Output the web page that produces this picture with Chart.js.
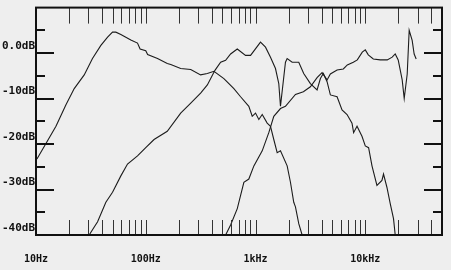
<!DOCTYPE html>
<html>
<head>
<meta charset="utf-8">
<script src="https://cdn.jsdelivr.net/npm/chart.js@4"></script>
<style>
  html, body { margin: 0; padding: 0; background: #eeeeee; }
  #wrap { width: 451px; height: 270px; }
</style>
</head>
<body>
<div id="wrap"><canvas id="resp"></canvas></div>
<script>
// axis values
var xLabelTicks = [10, 100, 1000, 10000];
var xLabelNames = ['10Hz', '100Hz', '1kHz', '10kHz'];
var xMarks = [20, 30, 40, 50, 60, 70, 80, 90, 100,
              200, 300, 400, 500, 600, 700, 800, 900, 1000,
              2000, 3000, 4000, 5000, 6000, 7000, 8000, 9000, 10000,
              20000, 30000, 40000];
var yLabelTicks = [-40, -30, -20, -10, 0];
var yLabelNames = ['-40dB', '-30dB', '-20dB', '-10dB', '0.0dB'];
var yMarks = [-35, -30, -25, -20, -15, -10, -5, 0, 5];

// woofer
var wooferFreq = [10.2, 15.2, 18.7, 22.3, 27.5, 32.7, 39, 44.9, 49.8, 53.4, 59.3, 73.1, 84.1, 88.8, 100, 104, 128, 157,
                  169, 208, 257, 316, 364, 418, 515, 635, 731, 869, 933, 1000, 1072, 1151, 1277, 1369,
                  1467, 1575, 1688, 1942, 2081, 2230, 2311, 2477, 2658];
var wooferDb = [-23.3, -16.1, -11.4, -7.8, -4.8, -1.2, 1.7, 3.5, 4.6, 4.6, 4.1, 2.9, 2.2, 0.9, 0.5, -0.3, -1.2, -2.3,
                -2.5, -3.4, -3.6, -4.8, -4.5, -4.0, -5.6, -7.8, -9.6, -11.7, -13.9, -13.2, -14.6, -13.5, -15.4, -16.1,
                -19.0, -21.9, -21.5, -24.8, -28.4, -32.8, -33.8, -37.5, -40];

// midrange
var midFreq = [30.5, 36.4, 43.3, 49.8, 59.3, 68.2, 84.1, 100, 119, 157, 208, 257, 316, 364, 427, 481, 534, 593, 682,
               811, 901, 1110, 1233, 1369, 1520, 1629, 1688, 1874, 1942, 2157, 2477, 2748, 3162, 3638, 3900, 4150,
               4486, 4808, 5534, 6140, 6822, 7570, 7830, 8410, 9330, 10000, 10720, 11510, 12770, 14180, 14660,
               15740, 16880, 18080, 18740];
var midDb = [-40, -37.1, -32.8, -30.6, -27.0, -24.4, -22.6, -20.8, -19.0, -17.2, -13.2, -11.0, -8.8, -7.0, -3.8, -2.0, -1.6, -0.2, 0.9,
             -0.5, -0.5, 2.4, 1.3, -0.9, -3.4, -6.7, -11.7, -2.0, -1.2, -2.0, -2.0, -4.5, -6.7, -8.1, -5.6, -4.5,
             -6.3, -9.2, -9.6, -12.5, -13.5, -15.4, -17.5, -16.1, -18.3, -20.4, -20.8, -24.8, -29.1, -28.0, -26.6,
             -29.5, -33.1, -36.4, -40];

// tweeter
var tweetFreq = [534, 593, 682, 783, 869, 966, 1151, 1321, 1467, 1688, 1874, 2311, 2730, 3162, 3638, 4040, 4486, 4808,
                 5534, 6310, 6860, 7780, 8460, 9390, 10000, 10650, 11830, 13690, 15850, 17590, 18740, 19950,
                 21690, 22630, 24100, 25120, 26740, 27880, 29090];
var tweetDb = [-40, -37.8, -34.2, -28.4, -27.7, -24.8, -21.5, -17.5, -13.9, -12.2, -11.7, -9.1, -8.5, -7.4, -5.4, -4.3, -5.9, -4.6,
               -3.7, -3.5, -2.6, -2.0, -1.5, 0.2, 0.7, -0.4, -1.3, -1.5, -1.5, -0.9, -0.2, -1.5,
               -5.9, -10.0, -4.6, 5.0, 2.8, -0.2, -1.3];

function toPoints(fs, ds) {
    return fs.map(function (f, i) { return {x: f, y: ds[i]}; });
}

function lineSet(fs, ds) {
    return {
        data: toPoints(fs, ds),
        borderColor: '#1c1c1c',
        borderWidth: 1.1,
        pointRadius: 0,
        tension: 0,
        fill: false
    };
}

//框線與刻度
const frameTicks = {
    id: 'frameTicks',
    afterDatasetsDraw(chart) {
        const ctx = chart.ctx;
        const a = chart.chartArea;
        const x = chart.scales.x;
        const y = chart.scales.y;
        ctx.save();
        ctx.strokeStyle = '#111';
        ctx.lineWidth = 2;
        yMarks.forEach(function (v) {
            const py = Math.round(y.getPixelForValue(v));
            const len = (v % 10 === 0) ? 18 : 9;
            ctx.beginPath();
            ctx.moveTo(a.left, py); ctx.lineTo(a.left + len, py);
            ctx.moveTo(a.right, py); ctx.lineTo(a.right - len, py);
            ctx.stroke();
        });
        ctx.strokeStyle = '#333';
        ctx.lineWidth = 1;
        xMarks.forEach(function (v) {
            const px = Math.round(x.getPixelForValue(v)) + 0.5;
            ctx.beginPath();
            ctx.moveTo(px, a.top); ctx.lineTo(px, a.top + 16);
            ctx.moveTo(px, a.bottom); ctx.lineTo(px, a.bottom - 15);
            ctx.stroke();
        });
        ctx.strokeStyle = '#111';
        ctx.lineWidth = 2;
        ctx.strokeRect(a.left, a.top, a.right - a.left, a.bottom - a.top);
        ctx.restore();
    }
};

new Chart(document.getElementById('resp'), {
    type: 'line',
    data: {
        datasets: [lineSet(wooferFreq, wooferDb), lineSet(midFreq, midDb), lineSet(tweetFreq, tweetDb)]
    },
    options: {
        responsive: true,
        maintainAspectRatio: false,
        animation: false,
        layout: { padding: { top: 5, right: 9, left: 0, bottom: 0 } },
        plugins: { legend: { display: false }, tooltip: { enabled: false } },
        scales: {
            x: {
                type: 'logarithmic',
                min: 10,
                max: 50000,
                grid: { display: false, drawTicks: false },
                border: { display: false },
                afterBuildTicks: function (s) { s.ticks = xLabelTicks.map(function (v) { return {value: v}; }); },
                afterFit: function (s) { s.height = 35; },
                ticks: {
                    autoSkip: false,
                    maxRotation: 0,
                    padding: 18,
                    color: '#111',
                    font: { family: 'DejaVu Sans Mono', size: 10, weight: 'bold' },
                    callback: function (v) {
                        const i = xLabelTicks.indexOf(v);
                        return i >= 0 ? xLabelNames[i] : '';
                    }
                }
            },
            y: {
                min: -40,
                max: 10,
                grid: { display: false, drawTicks: false },
                border: { display: false },
                afterBuildTicks: function (s) { s.ticks = yLabelTicks.map(function (v) { return {value: v}; }); },
                afterFit: function (s) { s.width = 36; },
                ticks: {
                    padding: 1,
                    labelOffset: -7,
                    color: '#111',
                    font: { family: 'DejaVu Sans Mono', size: 11, weight: 'bold' },
                    callback: function (v) {
                        const i = yLabelTicks.indexOf(v);
                        return i >= 0 ? yLabelNames[i] : '';
                    }
                }
            }
        }
    },
    plugins: [frameTicks]
});
</script>
</body>
</html>
